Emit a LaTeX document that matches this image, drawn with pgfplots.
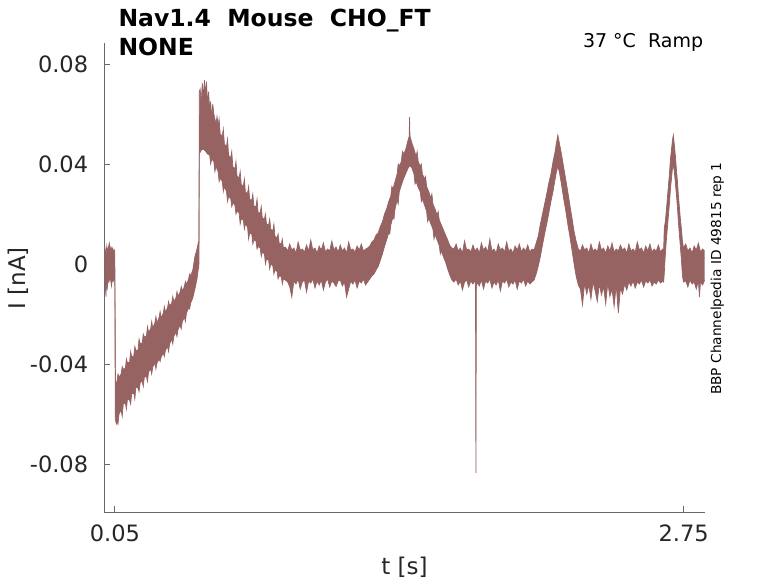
\documentclass[border=0pt]{standalone}
\usepackage{fontspec}
\setmainfont{DejaVu Sans}
\usepackage{pgfplots}
\usepackage{pgfplotstable}
\pgfplotsset{compat=1.18}
\usepgfplotslibrary{fillbetween}
\definecolor{trace}{RGB}{150,98,98}
\definecolor{axisgray}{RGB}{105,105,105}
\definecolor{labelgray}{RGB}{38,38,38}

\pgfplotstableread{
t I
0.000 0.0020
0.004 0.0060
0.008 0.0040
0.012 0.0072
0.016 0.0048
0.020 0.0068
0.024 0.0084
0.028 0.0056
0.032 0.0068
0.036 0.0052
0.040 0.0064
0.044 0.0048
0.048 0.0056
0.050 0.0040
0.053 -0.0480
0.06 -0.0470
0.065 -0.0440
0.07 -0.0452
0.08 -0.0440
0.085 -0.0410
0.09 -0.0420
0.10 -0.0418
0.105 -0.0380
0.11 -0.0396
0.12 -0.0392
0.125 -0.0350
0.13 -0.0372
0.14 -0.0368
0.145 -0.0330
0.15 -0.0346
0.16 -0.0344
0.165 -0.0300
0.17 -0.0318
0.18 -0.0316
0.185 -0.0280
0.19 -0.0292
0.20 -0.0288
0.205 -0.0250
0.21 -0.0272
0.22 -0.0260
0.225 -0.0230
0.23 -0.0256
0.24 -0.0236
0.245 -0.0210
0.25 -0.0236
0.26 -0.0214
0.265 -0.0190
0.27 -0.0216
0.28 -0.0196
0.285 -0.0170
0.29 -0.0192
0.30 -0.0176
0.305 -0.0150
0.31 -0.0168
0.32 -0.0156
0.325 -0.0130
0.33 -0.0150
0.34 -0.0136
0.345 -0.0110
0.35 -0.0130
0.36 -0.0112
0.365 -0.0090
0.37 -0.0108
0.38 -0.0090
0.385 -0.0070
0.39 -0.0082
0.40 -0.0060
0.405 -0.0040
0.41 -0.0048
0.42 -0.0024
0.43 0.0030
0.44 0.0060
0.446 0.0084
0.449 0.0070
0.451 0.0690
0.455 0.0700
0.460 0.0640
0.465 0.0724
0.470 0.0660
0.475 0.0736
0.480 0.0680
0.485 0.0730
0.490 0.0640
0.495 0.0690
0.500 0.0620
0.505 0.0650
0.510 0.0580
0.515 0.0640
0.52 0.0600
0.53 0.0560
0.535 0.0590
0.54 0.0556
0.545 0.0580
0.55 0.0520
0.56 0.0512
0.565 0.0540
0.57 0.0480
0.58 0.0470
0.585 0.0500
0.59 0.0436
0.60 0.0424
0.605 0.0450
0.61 0.0390
0.62 0.0380
0.625 0.0410
0.63 0.0352
0.64 0.0344
0.645 0.0370
0.65 0.0318
0.66 0.0312
0.665 0.0340
0.67 0.0286
0.68 0.0284
0.685 0.0310
0.69 0.0258
0.70 0.0256
0.705 0.0280
0.71 0.0232
0.72 0.0230
0.725 0.0260
0.73 0.0206
0.74 0.0204
0.745 0.0230
0.75 0.0184
0.76 0.0180
0.765 0.0200
0.77 0.0160
0.78 0.0156
0.785 0.0180
0.79 0.0140
0.80 0.0132
0.805 0.0160
0.81 0.0112
0.82 0.0104
0.825 0.0120
0.83 0.0084
0.84 0.0080
0.845 0.0100
0.85 0.0064
0.86 0.0068
0.87 0.0052
0.88 0.0080
0.89 0.0056
0.90 0.0064
0.91 0.0044
0.92 0.0088
0.93 0.0056
0.94 0.0060
0.95 0.0048
0.96 0.0076
0.97 0.0052
0.98 0.0096
0.99 0.0056
1.00 0.0064
1.01 0.0044
1.02 0.0072
1.03 0.0056
1.04 0.0084
1.05 0.0048
1.06 0.0060
1.07 0.0052
1.08 0.0092
1.09 0.0056
1.10 0.0068
1.11 0.0048
1.12 0.0076
1.13 0.0052
1.14 0.0064
1.15 0.0044
1.16 0.0088
1.17 0.0056
1.18 0.0060
1.19 0.0048
1.20 0.0072
1.21 0.0056
1.22 0.0080
1.23 0.0052
1.24 0.0060
1.25 0.0064
1.26 0.0072
1.27 0.0088
1.28 0.0096
1.29 0.0116
1.30 0.0124
1.31 0.0150
1.32 0.0168
1.33 0.0200
1.34 0.0220
1.35 0.0250
1.36 0.0272
1.365 0.0310
1.37 0.0300
1.38 0.0330
1.39 0.0360
1.395 0.0400
1.40 0.0392
1.41 0.0410
1.415 0.0450
1.42 0.0440
1.43 0.0456
1.44 0.0490
1.447 0.0510
1.449 0.0588
1.451 0.0512
1.46 0.0484
1.47 0.0460
1.48 0.0430
1.485 0.0450
1.49 0.0410
1.50 0.0390
1.505 0.0400
1.51 0.0360
1.52 0.0340
1.525 0.0350
1.53 0.0310
1.54 0.0290
1.55 0.0264
1.555 0.0280
1.56 0.0240
1.57 0.0220
1.58 0.0196
1.585 0.0210
1.59 0.0176
1.60 0.0156
1.61 0.0136
1.62 0.0116
1.63 0.0096
1.64 0.0074
1.65 0.0064
1.66 0.0060
1.67 0.0080
1.68 0.0052
1.69 0.0064
1.70 0.0044
1.71 0.0092
1.72 0.0056
1.73 0.0060
1.74 0.0048
1.75 0.0076
1.76 0.0052
1.77 0.0064
1.78 0.0044
1.79 0.0084
1.80 0.0056
1.81 0.0068
1.82 0.0048
1.83 0.0100
1.84 0.0052
1.85 0.0060
1.86 0.0044
1.87 0.0080
1.88 0.0056
1.89 0.0064
1.90 0.0048
1.91 0.0088
1.92 0.0052
1.93 0.0060
1.94 0.0044
1.95 0.0072
1.96 0.0056
1.97 0.0080
1.98 0.0048
1.99 0.0064
2.00 0.0052
2.01 0.0076
2.02 0.0048
2.03 0.0060
2.04 0.0056
2.05 0.0084
2.06 0.0112
2.07 0.0160
2.08 0.0200
2.09 0.0240
2.10 0.0280
2.11 0.0324
2.12 0.0360
2.13 0.0410
2.14 0.0450
2.146 0.0484
2.153 0.0516
2.16 0.0484
2.17 0.0440
2.18 0.0390
2.19 0.0340
2.20 0.0290
2.21 0.0236
2.22 0.0184
2.23 0.0130
2.24 0.0090
2.25 0.0060
2.26 0.0052
2.27 0.0076
2.28 0.0056
2.29 0.0064
2.30 0.0044
2.31 0.0080
2.32 0.0052
2.33 0.0060
2.34 0.0048
2.35 0.0088
2.36 0.0056
2.37 0.0064
2.38 0.0044
2.39 0.0072
2.40 0.0052
2.41 0.0084
2.42 0.0048
2.43 0.0060
2.44 0.0052
2.45 0.0076
2.46 0.0056
2.47 0.0064
2.48 0.0044
2.49 0.0080
2.50 0.0052
2.51 0.0060
2.52 0.0048
2.53 0.0088
2.54 0.0056
2.55 0.0064
2.56 0.0044
2.57 0.0072
2.58 0.0052
2.59 0.0080
2.60 0.0048
2.61 0.0060
2.62 0.0052
2.63 0.0076
2.64 0.0048
2.65 0.0060
2.655 0.0056
2.658 0.0144
2.663 0.0170
2.668 0.0216
2.673 0.0266
2.678 0.0316
2.683 0.0366
2.687 0.0416
2.692 0.0456
2.697 0.0496
2.701 0.0516
2.706 0.0476
2.711 0.0430
2.716 0.0376
2.721 0.0326
2.725 0.0276
2.730 0.0226
2.735 0.0176
2.740 0.0136
2.744 0.0096
2.749 0.0064
2.76 0.0080
2.77 0.0052
2.78 0.0064
2.79 0.0044
2.80 0.0072
2.81 0.0056
2.82 0.0084
2.83 0.0048
2.84 0.0060
2.85 0.0052
}\uppertab

\pgfplotstableread{
t I
0.000 -0.0040
0.004 -0.0080
0.008 -0.0130
0.010 -0.0070
0.014 -0.0096
0.018 -0.0060
0.022 -0.0072
0.026 -0.0056
0.030 -0.0064
0.034 -0.0088
0.038 -0.0060
0.042 -0.0070
0.046 -0.0058
0.050 -0.0064
0.052 -0.0620
0.055 -0.0632
0.058 -0.0640
0.062 -0.0628
0.065 -0.0640
0.07 -0.0600
0.08 -0.0584
0.085 -0.0610
0.09 -0.0560
0.10 -0.0556
0.105 -0.0580
0.11 -0.0540
0.12 -0.0544
0.125 -0.0560
0.13 -0.0520
0.14 -0.0516
0.145 -0.0540
0.15 -0.0492
0.16 -0.0496
0.165 -0.0510
0.17 -0.0476
0.18 -0.0468
0.185 -0.0490
0.19 -0.0452
0.20 -0.0450
0.205 -0.0470
0.21 -0.0432
0.22 -0.0420
0.225 -0.0440
0.23 -0.0412
0.24 -0.0396
0.245 -0.0420
0.25 -0.0396
0.26 -0.0380
0.265 -0.0390
0.27 -0.0372
0.28 -0.0356
0.285 -0.0370
0.29 -0.0346
0.30 -0.0330
0.305 -0.0350
0.31 -0.0320
0.32 -0.0300
0.325 -0.0320
0.33 -0.0290
0.34 -0.0272
0.345 -0.0290
0.35 -0.0262
0.36 -0.0244
0.365 -0.0260
0.37 -0.0232
0.38 -0.0212
0.385 -0.0230
0.39 -0.0196
0.40 -0.0176
0.405 -0.0180
0.41 -0.0156
0.42 -0.0136
0.43 -0.0100
0.44 -0.0060
0.446 -0.0020
0.449 -0.0010
0.451 0.0440
0.46 0.0456
0.47 0.0460
0.48 0.0452
0.49 0.0440
0.50 0.0436
0.505 0.0400
0.51 0.0420
0.52 0.0410
0.525 0.0370
0.53 0.0390
0.54 0.0370
0.545 0.0330
0.55 0.0344
0.56 0.0330
0.565 0.0290
0.57 0.0310
0.58 0.0290
0.585 0.0250
0.59 0.0270
0.60 0.0262
0.605 0.0230
0.61 0.0244
0.62 0.0236
0.625 0.0200
0.63 0.0212
0.64 0.0204
0.645 0.0160
0.65 0.0180
0.66 0.0176
0.665 0.0140
0.67 0.0160
0.68 0.0148
0.685 0.0100
0.69 0.0124
0.70 0.0120
0.705 0.0080
0.71 0.0096
0.72 0.0092
0.725 0.0060
0.73 0.0070
0.74 0.0064
0.745 0.0030
0.75 0.0048
0.76 0.0040
0.765 0.0000
0.77 0.0020
0.78 0.0016
0.785 -0.0020
0.79 0.0000
0.80 -0.0008
0.805 -0.0040
0.81 -0.0024
0.82 -0.0030
0.825 -0.0060
0.83 -0.0048
0.84 -0.0050
0.845 -0.0080
0.85 -0.0060
0.86 -0.0064
0.87 -0.0072
0.88 -0.0090
0.89 -0.0132
0.90 -0.0068
0.91 -0.0080
0.92 -0.0060
0.93 -0.0100
0.94 -0.0072
0.95 -0.0064
0.96 -0.0112
0.97 -0.0068
0.98 -0.0076
0.99 -0.0060
1.00 -0.0096
1.01 -0.0068
1.02 -0.0084
1.03 -0.0064
1.04 -0.0104
1.05 -0.0072
1.06 -0.0060
1.07 -0.0092
1.08 -0.0068
1.09 -0.0076
1.10 -0.0090
1.11 -0.0068
1.12 -0.0064
1.13 -0.0088
1.14 -0.0072
1.15 -0.0132
1.16 -0.0100
1.17 -0.0068
1.18 -0.0080
1.19 -0.0064
1.20 -0.0096
1.21 -0.0068
1.22 -0.0076
1.23 -0.0060
1.24 -0.0084
1.25 -0.0072
1.26 -0.0060
1.27 -0.0048
1.28 -0.0040
1.29 -0.0024
1.30 -0.0010
1.31 0.0014
1.32 0.0040
1.33 0.0070
1.34 0.0096
1.35 0.0124
1.355 0.0120
1.36 0.0156
1.37 0.0188
1.375 0.0180
1.38 0.0220
1.39 0.0256
1.395 0.0240
1.40 0.0288
1.41 0.0316
1.42 0.0340
1.43 0.0360
1.44 0.0380
1.45 0.0394
1.46 0.0384
1.47 0.0360
1.475 0.0320
1.48 0.0330
1.49 0.0306
1.50 0.0288
1.505 0.0250
1.51 0.0260
1.52 0.0236
1.53 0.0210
1.535 0.0170
1.54 0.0184
1.55 0.0160
1.56 0.0140
1.565 0.0100
1.57 0.0118
1.58 0.0096
1.59 0.0074
1.595 0.0040
1.60 0.0052
1.61 0.0028
1.62 0.0008
1.63 -0.0020
1.64 -0.0044
1.65 -0.0064
1.66 -0.0072
1.67 -0.0060
1.68 -0.0084
1.69 -0.0068
1.70 -0.0104
1.71 -0.0072
1.72 -0.0064
1.73 -0.0092
1.74 -0.0068
1.75 -0.0080
1.76 -0.0064
1.762 -0.0100
1.764 -0.0836
1.766 -0.0100
1.77 -0.0072
1.78 -0.0088
1.79 -0.0064
1.80 -0.0100
1.81 -0.0068
1.82 -0.0076
1.83 -0.0060
1.84 -0.0096
1.85 -0.0072
1.86 -0.0084
1.87 -0.0064
1.88 -0.0108
1.89 -0.0068
1.90 -0.0076
1.91 -0.0060
1.92 -0.0092
1.93 -0.0072
1.94 -0.0080
1.95 -0.0064
1.96 -0.0100
1.97 -0.0068
1.98 -0.0076
1.99 -0.0060
2.00 -0.0088
2.01 -0.0068
2.02 -0.0080
2.03 -0.0072
2.04 -0.0064
2.05 -0.0040
2.06 -0.0008
2.07 0.0030
2.08 0.0076
2.09 0.0120
2.10 0.0160
2.11 0.0204
2.12 0.0250
2.13 0.0290
2.14 0.0340
2.146 0.0368
2.153 0.0392
2.16 0.0368
2.17 0.0320
2.18 0.0264
2.19 0.0216
2.20 0.0160
2.21 0.0110
2.22 0.0056
2.23 0.0000
2.24 -0.0050
2.25 -0.0084
2.26 -0.0100
2.27 -0.0164
2.28 -0.0076
2.29 -0.0120
2.30 -0.0084
2.31 -0.0140
2.32 -0.0072
2.33 -0.0108
2.34 -0.0150
2.35 -0.0080
2.36 -0.0124
2.37 -0.0090
2.38 -0.0160
2.39 -0.0076
2.40 -0.0130
2.41 -0.0100
2.42 -0.0170
2.43 -0.0084
2.44 -0.0196
2.45 -0.0096
2.46 -0.0120
2.47 -0.0080
2.48 -0.0104
2.49 -0.0072
2.50 -0.0088
2.51 -0.0068
2.52 -0.0096
2.53 -0.0072
2.54 -0.0080
2.55 -0.0064
2.56 -0.0092
2.57 -0.0068
2.58 -0.0076
2.59 -0.0064
2.60 -0.0088
2.61 -0.0072
2.62 -0.0080
2.63 -0.0064
2.64 -0.0076
2.65 -0.0068
2.655 -0.0072
2.658 -0.0040
2.663 0.0036
2.668 0.0096
2.673 0.0146
2.678 0.0196
2.683 0.0246
2.687 0.0296
2.692 0.0340
2.697 0.0384
2.701 0.0396
2.706 0.0368
2.711 0.0322
2.716 0.0276
2.721 0.0222
2.725 0.0168
2.730 0.0116
2.735 0.0064
2.740 0.0010
2.744 -0.0044
2.749 -0.0072
2.76 -0.0068
2.77 -0.0092
2.78 -0.0064
2.79 -0.0080
2.80 -0.0072
2.81 -0.0100
2.82 -0.0068
2.825 -0.0132
2.83 -0.0072
2.84 -0.0084
2.85 -0.0064
}\lowertab

\begin{document}
\begin{tikzpicture}
\begin{axis}[
  at={(104.3bp,71bp)}, anchor=south west,
  scale only axis, width=600.4bp, height=468.7bp,
  xmin=0, xmax=2.85, ymin=-0.0992, ymax=0.0883,
  axis x line*=bottom, axis y line*=left,
  axis line style={draw=axisgray, line width=0.8bp},
  scaled x ticks=false, scaled y ticks=false,
  xtick={0.05,2.75}, xticklabels={0.05,2.75},
  ytick={-0.08,-0.04,0,0.04,0.08},
  yticklabels={-0.08,-0.04,0,0.04,0.08},
  major tick style={draw=axisgray, line width=0.8bp},
  major tick length=6bp, tick align=inside,
  ticklabel style={font=\fontsize{22.5bp}{27bp}\selectfont, text=labelgray, inner sep=0pt},
  xticklabel style={yshift=-13bp},
  yticklabel style={xshift=-16bp},
  clip=true,
]
\addplot[name path=U, draw=trace, line width=0.7bp] table[x=t, y=I] {\uppertab};
\addplot[name path=L, draw=trace, line width=0.7bp] table[x=t, y=I] {\lowertab};
\addplot[fill=trace, draw=none] fill between[of=U and L];
\end{axis}
\node[anchor=base west, inner sep=0pt, font=\fontsize{23.5bp}{28bp}\selectfont\bfseries] at (118.3bp,556.3bp) {Nav1.4\ \ Mouse\ \ CHO\_FT};
\node[anchor=base west, inner sep=0pt, font=\fontsize{23.5bp}{28bp}\selectfont\bfseries] at (118.3bp,527bp) {NONE};
\node[anchor=base east, inner sep=0pt, font=\fontsize{19bp}{23bp}\selectfont, text=black] at (703.3bp,535.3bp) {37 °C\ \ Ramp};
\node[rotate=90, anchor=base west, inner sep=0pt, font=\fontsize{13.7bp}{16bp}\selectfont] at (721bp,188bp) {BBP Channelpedia ID 49815 rep 1};
\node[anchor=base, inner sep=0pt, font=\fontsize{23bp}{27bp}\selectfont, text=labelgray] at (404.5bp,8.7bp) {t [s]};
\node[rotate=90, anchor=base, inner sep=0pt, font=\fontsize{23bp}{27bp}\selectfont, text=labelgray] at (25bp,304.7bp) {I [nA]};
\path (0,0) rectangle (778bp,583bp);
\end{tikzpicture}
\end{document}
